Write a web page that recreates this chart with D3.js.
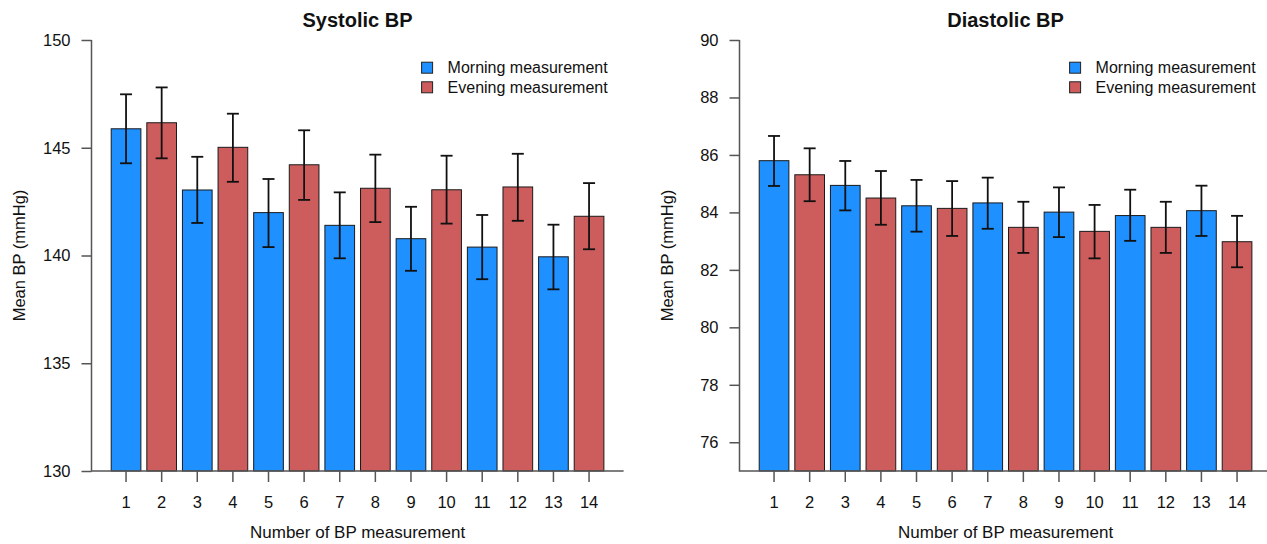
<!DOCTYPE html>
<html>
<head>
<meta charset="utf-8">
<script src="https://cdn.jsdelivr.net/npm/d3@7"></script>
<style>
  html, body { margin: 0; padding: 0; background: #fff; }
  svg { display: block; font-family: "Liberation Sans", Arial, sans-serif; }
</style>
</head>
<body>
<svg id="chart" width="1267" height="544"></svg>
<script>
// ---- Data ----
const measurements = [1,2,3,4,5,6,7,8,9,10,11,12,13,14];
const session = ["Morning","Evening","Morning","Evening","Morning","Evening","Morning","Evening","Morning","Evening","Morning","Evening","Morning","Evening"];

const systolicMean  = [145.88,146.16,143.04,145.02,141.99,144.21,141.40,143.12,140.78,143.05,140.39,143.18,139.94,141.82];
const systolicLower = [144.28,144.51,141.51,143.42,140.39,142.58,139.87,141.55,139.29,141.48,138.90,141.61,138.43,140.29];
const systolicUpper = [147.48,147.80,144.58,146.58,143.55,145.81,142.93,144.68,142.26,144.63,141.88,144.72,141.43,143.36];

const diastolicMean  = [85.80,85.31,84.94,84.50,84.23,84.14,84.33,83.48,84.01,83.34,83.89,83.48,84.06,82.98];
const diastolicLower = [84.92,84.39,84.07,83.57,83.33,83.18,83.43,82.59,83.14,82.40,83.01,82.59,83.18,82.09];
const diastolicUpper = [86.66,86.23,85.79,85.44,85.13,85.09,85.21,84.37,84.87,84.26,84.79,84.37,84.93,83.88];

const systolicTicks  = [130,135,140,145,150];
const diastolicTicks = [76,78,80,82,84,86,88,90];
const legendLabels = ["Morning measurement","Evening measurement"];
const legendKeys = ["Morning","Evening"];

// ---- Style ----
const colors = { Morning: "#1E90FF", Evening: "#CD5C5C" };
const axisColor = "#555";

const svg = d3.select("#chart");

function panel(opts) {
  const { left, right, top, bottom, domain, ticks, means, lowers, uppers, title } = opts;
  const g = svg.append("g");

  const x = d3.scaleBand()
    .domain(measurements)
    .range([left, right])
    .paddingInner(1/6)
    .paddingOuter(0.5533);

  const y = d3.scaleLinear().domain(domain).range([bottom, top]);

  // bars
  g.selectAll("rect.bar")
    .data(measurements)
    .join("rect")
    .attr("class", "bar")
    .attr("x", d => x(d))
    .attr("width", x.bandwidth())
    .attr("y", (d, i) => y(means[i]))
    .attr("height", (d, i) => y(domain[0]) - y(means[i]))
    .attr("fill", (d, i) => colors[session[i]])
    .attr("stroke", "#1a1a1a")
    .attr("stroke-width", 1);

  // error bars
  const eb = g.selectAll("g.err").data(measurements).join("g").attr("class", "err")
    .attr("stroke", "#111").attr("stroke-width", 1.8).attr("fill", "none");
  const cx = d => x(d) + x.bandwidth() / 2;
  eb.append("line")
    .attr("x1", cx).attr("x2", cx)
    .attr("y1", (d, i) => y(lowers[i])).attr("y2", (d, i) => y(uppers[i]));
  eb.append("line")
    .attr("x1", d => cx(d) - 6).attr("x2", d => cx(d) + 6)
    .attr("y1", (d, i) => y(uppers[i])).attr("y2", (d, i) => y(uppers[i]));
  eb.append("line")
    .attr("x1", d => cx(d) - 6).attr("x2", d => cx(d) + 6)
    .attr("y1", (d, i) => y(lowers[i])).attr("y2", (d, i) => y(lowers[i]));

  // L-shaped frame
  g.append("path")
    .attr("d", `M${left},${top}V${bottom}H${right}`)
    .attr("fill", "none").attr("stroke", axisColor).attr("stroke-width", 1.5);

  // y axis
  const ya = g.append("g")
    .attr("transform", `translate(${left},0)`)
    .call(d3.axisLeft(y).tickValues(ticks).tickSize(10).tickPadding(11).tickFormat(d3.format("d")));
  ya.select(".domain").remove();
  ya.selectAll(".tick line").attr("stroke", axisColor).attr("stroke-width", 1.5);
  ya.selectAll(".tick text").attr("font-size", 16.5).attr("fill", "#111")
    .attr("font-family", "Liberation Sans, Arial, sans-serif");

  // x axis
  const xa = g.append("g")
    .attr("transform", `translate(0,${bottom})`)
    .call(d3.axisBottom(x).tickSize(11).tickPadding(14));
  xa.select(".domain").remove();
  xa.selectAll(".tick line").attr("stroke", axisColor).attr("stroke-width", 1.5);
  xa.selectAll(".tick text").attr("font-size", 16.5).attr("fill", "#111")
    .attr("font-family", "Liberation Sans, Arial, sans-serif");

  const mid = (left + right) / 2;
  // title
  g.append("text").attr("x", mid).attr("y", 27)
    .attr("text-anchor", "middle").attr("font-size", 20).attr("font-weight", "bold")
    .attr("fill", "#111").text(title);
  // x label
  g.append("text").attr("x", mid).attr("y", 538)
    .attr("text-anchor", "middle").attr("font-size", 17).attr("fill", "#111")
    .text("Number of BP measurement");
  // y label
  g.append("text")
    .attr("transform", `translate(${left - 67},${(top + bottom) / 2}) rotate(-90)`)
    .attr("text-anchor", "middle").attr("font-size", 16.5).attr("fill", "#111")
    .text("Mean BP (mmHg)");

  // legend
  const lg = g.append("g").attr("transform", `translate(${right - 202},0)`);
  legendKeys.forEach((k, i) => {
    const cy = 67.7 + i * 19.6;
    lg.append("rect").attr("x", 0).attr("y", cy - 5.5).attr("width", 11).attr("height", 11)
      .attr("fill", colors[k]).attr("stroke", "#222").attr("stroke-width", 1);
    lg.append("text").attr("x", 26).attr("y", cy + 5.7)
      .attr("font-size", 16).attr("fill", "#111").text(legendLabels[i]);
  });
}

panel({
  left: 91.5, right: 623.6, top: 40, bottom: 471,
  domain: [130, 150], ticks: systolicTicks,
  means: systolicMean, lowers: systolicLower, uppers: systolicUpper,
  title: "Systolic BP"
});
panel({
  left: 739.5, right: 1271.6, top: 40, bottom: 471,
  domain: [75, 90], ticks: diastolicTicks,
  means: diastolicMean, lowers: diastolicLower, uppers: diastolicUpper,
  title: "Diastolic BP"
});
</script>
</body>
</html>
